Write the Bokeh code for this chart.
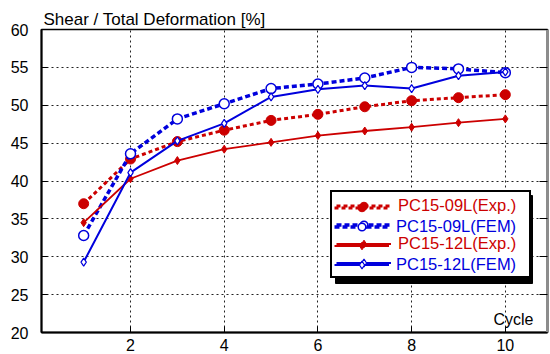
from bokeh.plotting import figure
from bokeh.models import (Range1d, FixedTicker, LinearAxis, Legend, LegendItem, Label)
from bokeh.embed import file_html
from bokeh.resources import INLINE

# Shear share of total deformation per loading cycle
cycles = [1, 2, 3, 4, 5, 6, 7, 8, 9, 10]
exp_09l = [37.0, 42.9, 45.2, 46.7, 48.0, 48.8, 49.8, 50.6, 51.0, 51.4]
fem_09l = [32.8, 43.6, 48.2, 50.2, 52.2, 52.8, 53.6, 55.0, 54.8, 54.3]
exp_12l = [34.5, 40.3, 42.7, 44.2, 45.1, 46.0, 46.6, 47.1, 47.7, 48.2]
fem_12l = [29.3, 41.1, 45.3, 47.6, 51.1, 52.1, 52.6, 52.2, 53.9, 54.4]

series_names = ["PC15-09L(Exp.)", "PC15-09L(FEM)", "PC15-12L(Exp.)", "PC15-12L(FEM)"]
x_ticks = [2, 4, 6, 8, 10]
y_ticks = [20, 25, 30, 35, 40, 45, 50, 55, 60]

RED = "#CC0000"
BLUE = "#0000DD"
FONT = "Liberation Sans"

X0, X1 = 0.1, 10.9
Y0, Y1 = 20, 60
FW, FH = 506, 303

p = figure(frame_width=FW, frame_height=FH, output_backend="svg", toolbar_location=None,
           x_range=Range1d(X0, X1), y_range=Range1d(Y0, Y1),
           min_border_left=41, min_border_right=3, min_border_top=29, min_border_bottom=22)
p.background_fill_color = "white"
p.border_fill_color = "white"
p.outline_line_color = "black"
p.outline_line_width = 1.5

p.title.text = "Shear / Total Deformation [%]"
p.title.align = "left"
p.title.text_font = FONT
p.title.text_font_size = "17px"
p.title.text_font_style = "normal"
p.title.text_color = "black"
p.title.offset = 2
p.title.standoff = 2

# axes
for ax in (p.xaxis[0], p.yaxis[0]):
    ax.axis_line_color = "black"
    ax.axis_line_width = 2
    ax.major_tick_in = 6
    ax.major_tick_out = 0
    ax.major_tick_line_color = "black"
    ax.minor_tick_line_color = None
    ax.major_label_text_font = FONT
    ax.major_label_text_font_size = "16px"
    ax.major_label_text_color = "black"
p.xaxis[0].ticker = FixedTicker(ticks=x_ticks)
p.yaxis[0].ticker = FixedTicker(ticks=y_ticks)
p.xaxis[0].major_label_standoff = 6
p.yaxis[0].major_label_standoff = 13

right_axis = LinearAxis(ticker=FixedTicker(ticks=y_ticks))
right_axis.axis_line_color = "#8c8c8c"
right_axis.axis_line_width = 3
right_axis.major_tick_in = 8
right_axis.major_tick_out = 0
right_axis.major_tick_line_color = "black"
right_axis.minor_tick_line_color = None
right_axis.major_label_overrides = {t: "" for t in y_ticks}
right_axis.major_label_standoff = 0
p.add_layout(right_axis, "right")

# dotted grid
p.xgrid.ticker = FixedTicker(ticks=x_ticks)
p.ygrid.ticker = FixedTicker(ticks=y_ticks)
for g in (p.xgrid[0], p.ygrid[0]):
    g.grid_line_color = "#222222"
    g.grid_line_dash = "2 3"
    g.grid_line_width = 1

# legend geometry (screen px relative to frame)
LEG_PAD, GLYPH_W, STANDOFF, LABEL_W = 4, 55, 7, 127
LEG_X, LEG_Y = 289, 54
LEG_W = 2 * LEG_PAD + GLYPH_W + STANDOFF + LABEL_W
LEG_H = 88
SHADOW = 5
sx = (X1 - X0) / FW
sy = (Y1 - Y0) / FH
p.quad(left=X0 + (LEG_X + SHADOW) * sx, right=X0 + (LEG_X + LEG_W + SHADOW) * sx,
       bottom=Y0 + (LEG_Y - SHADOW) * sy, top=Y0 + (LEG_Y + LEG_H - SHADOW) * sy,
       fill_color="black", line_color="black")

# series
l1 = p.line(cycles, exp_09l, line_color=RED, line_width=3, line_dash="4 3")
m1 = p.scatter(cycles, exp_09l, marker="circle", size=10, fill_color=RED, line_color=RED)
l2 = p.line(cycles, fem_09l, line_color=BLUE, line_width=3.5, line_dash="5 3")
m2 = p.scatter(cycles, fem_09l, marker="circle", size=10, fill_color="white",
               line_color=BLUE, line_width=1.5)
l3 = p.line(cycles, exp_12l, line_color=RED, line_width=1.8)
m3 = p.scatter(cycles, exp_12l, marker="diamond", size=8, fill_color=RED, line_color=RED)
l4 = p.line(cycles, fem_12l, line_color=BLUE, line_width=2)
m4 = p.scatter(cycles, fem_12l, marker="diamond", size=8, fill_color="white",
               line_color=BLUE, line_width=1.2)

renderer_pairs = [[l1, m1], [l2, m2], [l3, m3], [l4, m4]]


def make_legend(labels, color, boxed):
    items = [LegendItem(label=lab, renderers=rs) for lab, rs in zip(labels, renderer_pairs)]
    leg = Legend(items=items, location=(LEG_X, LEG_Y), orientation="vertical",
                 padding=LEG_PAD, spacing=0, glyph_width=GLYPH_W, glyph_height=19,
                 label_height=19, label_width=LABEL_W, label_standoff=STANDOFF,
                 label_text_font=FONT, label_text_font_size="16.5px",
                 label_text_color=color, label_text_baseline="middle", click_policy="none",
                 border_line_color="black", border_line_width=2,
                 background_fill_color="white")
    if boxed:
        leg.border_line_alpha = 1
        leg.background_fill_alpha = 1
    else:
        leg.border_line_alpha = 0
        leg.background_fill_alpha = 0
    return leg


# two stacked legends so each label keeps its series colour
red_labels = [series_names[0], " ", series_names[2], " "]
blue_labels = [" ", series_names[1], " ", series_names[3]]
p.add_layout(make_legend(red_labels, RED, True), "center")
p.add_layout(make_legend(blue_labels, BLUE, False), "center")

p.add_layout(Label(x=X1, y=Y0, x_offset=-14, y_offset=13, text="Cycle",
                   text_font=FONT, text_font_size="16px", text_color="black",
                   text_align="right", text_baseline="alphabetic"))

open("out.html", "w").write(file_html(p, INLINE))
